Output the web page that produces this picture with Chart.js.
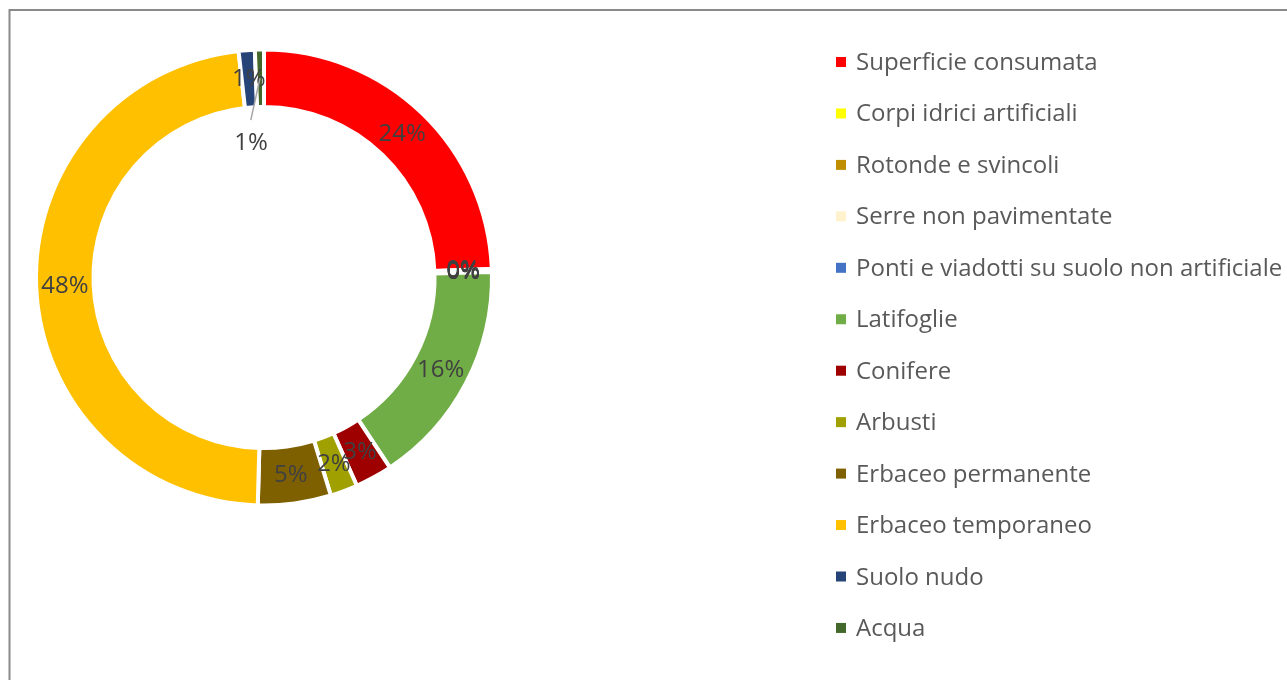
<!DOCTYPE html>
<html>
<head>
<meta charset="utf-8">
<script src="https://cdn.jsdelivr.net/npm/chart.js@4.4.0/dist/chart.umd.min.js"></script>
<style>
  html, body { margin: 0; padding: 0; background: #ffffff; overflow: hidden; }
  #c { display: block; }
</style>
</head>
<body>
<canvas id="c" width="1287" height="680"></canvas>
<script>
// ---- data ----
const categories = [
  "Superficie consumata",
  "Corpi idrici artificiali",
  "Rotonde e svincoli",
  "Serre non pavimentate",
  "Ponti e viadotti su suolo non artificiale",
  "Latifoglie",
  "Conifere",
  "Arbusti",
  "Erbaceo permanente",
  "Erbaceo temporaneo",
  "Suolo nudo",
  "Acqua"
];
const shares = [24.4, 0.055, 0.055, 0.055, 0.055, 16.06, 2.64, 1.94, 5.17, 47.78, 1.14, 0.64];
const colors = [
  "#FF0000", "#FFFF00", "#BF8F00", "#FFF2CC", "#4472C4", "#70AD47",
  "#9E0000", "#A0A000", "#7F6000", "#FFC000", "#264478", "#43682B"
];

const FONT = "'Open Sans', 'DejaVu Sans', sans-serif";

const framePlugin = {
  id: 'frame',
  beforeDraw(chart) {
    const ctx = chart.ctx;
    ctx.save();
    ctx.fillStyle = '#ffffff';
    ctx.fillRect(0, 0, chart.width, chart.height);
    ctx.strokeStyle = '#8a8a8a';
    ctx.lineWidth = 2;
    ctx.beginPath();
    ctx.moveTo(9.5, chart.height + 5);
    ctx.lineTo(9.5, 10);
    ctx.lineTo(chart.width + 5, 10);
    ctx.stroke();
    ctx.restore();
  }
};

const labelPlugin = {
  id: 'sliceLabels',
  afterDatasetsDraw(chart, args, opts) {
    const ctx = chart.ctx;
    const meta = chart.getDatasetMeta(0);
    const data = chart.data.datasets[0].data;
    const total = data.reduce((a, b) => a + b, 0);
    ctx.save();
    ctx.font = opts.fontSize + 'px ' + FONT;
    ctx.fillStyle = '#404040';
    ctx.textAlign = 'center';
    ctx.textBaseline = 'middle';
    meta.data.forEach((arc, i) => {
      const p = arc.getProps(['x', 'y', 'startAngle', 'endAngle', 'innerRadius', 'outerRadius'], true);
      const mid = (p.startAngle + p.endAngle) / 2;
      const rMid = (p.innerRadius + p.outerRadius) / 2;
      const txt = Math.round(data[i] / total * 100) + '%';
      const lead = opts.leader && opts.leader.index === i ? opts.leader : null;
      if (lead) {
        const a1 = mid + lead.lineShift * Math.PI / 180;
        const a2 = mid + lead.labelShift * Math.PI / 180;
        ctx.save();
        ctx.strokeStyle = '#a6a6a6';
        ctx.lineWidth = 1.5;
        ctx.beginPath();
        ctx.moveTo(p.x + rMid * Math.cos(mid), p.y + rMid * Math.sin(mid));
        ctx.lineTo(p.x + lead.lineRadius * Math.cos(a1), p.y + lead.lineRadius * Math.sin(a1));
        ctx.stroke();
        ctx.restore();
        ctx.fillText(txt, p.x + lead.labelRadius * Math.cos(a2), p.y + lead.labelRadius * Math.sin(a2));
      } else {
        ctx.fillText(txt, p.x + rMid * Math.cos(mid), p.y + rMid * Math.sin(mid));
      }
    });
    ctx.restore();
  }
};

const legendPlugin = {
  id: 'sideLegend',
  afterDraw(chart, args, opts) {
    const ctx = chart.ctx;
    ctx.save();
    ctx.font = opts.fontSize + 'px ' + FONT;
    ctx.textAlign = 'left';
    ctx.textBaseline = 'alphabetic';
    categories.forEach((name, i) => {
      const cy = opts.top + i * opts.step;
      ctx.fillStyle = colors[i];
      ctx.fillRect(opts.left, cy - 5, 10, 10);
      ctx.fillStyle = '#595959';
      ctx.fillText(name, opts.left + 20, cy + 8);
    });
    ctx.restore();
  }
};

new Chart(document.getElementById('c'), {
  type: 'doughnut',
  data: {
    labels: categories,
    datasets: [{
      data: shares,
      backgroundColor: colors,
      borderColor: '#ffffff',
      borderWidth: 4
    }]
  },
  options: {
    responsive: false,
    animation: false,
    events: [],
    radius: 228,
    cutout: '74.8%',
    rotation: 0,
    layout: { padding: { left: 36, top: 49.5, right: 795, bottom: 174.5 } },
    plugins: {
      legend: { display: false },
      tooltip: { enabled: false },
      title: { display: false },
      sliceLabels: {
        fontSize: 24,
        leader: { index: 11, lineRadius: 158, lineShift: -3.65, labelRadius: 135, labelShift: -4.35 }
      },
      sideLegend: { left: 836, top: 62, step: 51.45, fontSize: 24 }
    }
  },
  plugins: [framePlugin, labelPlugin, legendPlugin]
});
</script>
</body>
</html>
